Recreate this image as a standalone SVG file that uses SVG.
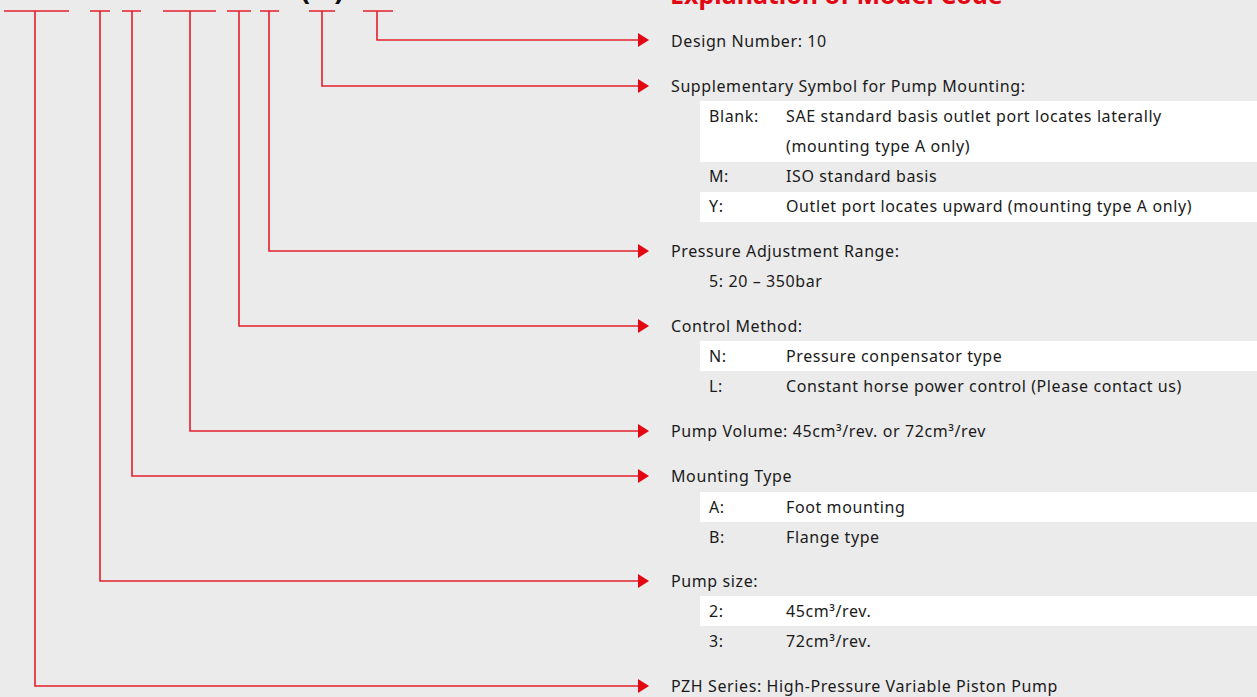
<svg xmlns="http://www.w3.org/2000/svg" width="1257" height="697" viewBox="0 0 1257 697">
<defs>
<style>
.bg{fill:#ebebeb}
.row{fill:#ffffff}
.bar{stroke:#e3202d;stroke-width:1.6;fill:none}
.con{stroke:#e3202d;stroke-width:1.6;fill:none}
.t{font-family:"Noto Sans","Open Sans",sans-serif;font-size:16px;letter-spacing:0.6px;fill:#1a1a1a}
.title{font-family:"Noto Sans","Open Sans",sans-serif;font-size:25px;font-weight:bold;fill:#e30613}
.par{font-family:"Liberation Sans",sans-serif;font-size:28px;font-weight:bold;fill:#111}
</style>
<marker id="ah" markerWidth="12" markerHeight="14" refX="1" refY="7" orient="auto" markerUnits="userSpaceOnUse">
<path d="M1,0 L12,7 L1,14 Z" fill="#e30613"/>
</marker>
</defs>
<rect class="bg" x="0" y="0" width="1257" height="697"/>
<text class="title" x="670" y="4">Explanation of Model Code</text>
<g id="code">
<text class="par" x="300" y="-2">(</text>
<text class="par" x="335" y="-2">)</text>
<path class="bar" d="M4,11H69 M90,11H110 M122,11H141 M163,11H216 M227,11H251 M260,11H279 M309,11H335 M363,11H393"/>
</g>
<g id="connectors">
<path class="con" marker-end="url(#ah)" d="M377,11V40H638"/>
<path class="con" marker-end="url(#ah)" d="M322,11V86H638"/>
<path class="con" marker-end="url(#ah)" d="M269,11V251H638"/>
<path class="con" marker-end="url(#ah)" d="M239,11V326H638"/>
<path class="con" marker-end="url(#ah)" d="M190,11V431H638"/>
<path class="con" marker-end="url(#ah)" d="M132,11V476H638"/>
<path class="con" marker-end="url(#ah)" d="M100,11V581H638"/>
<path class="con" marker-end="url(#ah)" d="M35,11V686H638"/>
</g>
<g id="design-number">
<text class="t" x="671" y="47">Design Number: 10</text>
</g>
<g id="supplementary">
<text class="t" x="671" y="92">Supplementary Symbol for Pump Mounting:</text>
<rect class="row" x="700" y="101" width="557" height="61"/>
<rect class="row" x="700" y="192" width="557" height="30"/>
<text class="t" x="709" y="122">Blank:</text>
<text class="t" x="786" y="122">SAE standard basis outlet port locates laterally</text>
<text class="t" x="786" y="152">(mounting type A only)</text>
<text class="t" x="709" y="182">M:</text>
<text class="t" x="786" y="182">ISO standard basis</text>
<text class="t" x="709" y="212">Y:</text>
<text class="t" x="786" y="212">Outlet port locates upward (mounting type A only)</text>
</g>
<g id="pressure">
<text class="t" x="671" y="257">Pressure Adjustment Range:</text>
<text class="t" x="709" y="287">5: 20 – 350bar</text>
</g>
<g id="control">
<text class="t" x="671" y="332">Control Method:</text>
<rect class="row" x="700" y="341" width="557" height="30"/>
<text class="t" x="709" y="362">N:</text>
<text class="t" x="786" y="362">Pressure conpensator type</text>
<text class="t" x="709" y="392">L:</text>
<text class="t" x="786" y="392">Constant horse power control (Please contact us)</text>
</g>
<g id="volume">
<text class="t" x="671" y="437">Pump Volume: 45cm³/rev. or 72cm³/rev</text>
</g>
<g id="mounting">
<text class="t" x="671" y="482">Mounting Type</text>
<rect class="row" x="700" y="492" width="557" height="30"/>
<text class="t" x="709" y="513">A:</text>
<text class="t" x="786" y="513">Foot mounting</text>
<text class="t" x="709" y="543">B:</text>
<text class="t" x="786" y="543">Flange type</text>
</g>
<g id="size">
<text class="t" x="671" y="587">Pump size:</text>
<rect class="row" x="700" y="596" width="557" height="30"/>
<text class="t" x="709" y="617">2:</text>
<text class="t" x="786" y="617">45cm³/rev.</text>
<text class="t" x="709" y="647">3:</text>
<text class="t" x="786" y="647">72cm³/rev.</text>
</g>
<g id="series">
<text class="t" x="671" y="692">PZH Series: High-Pressure Variable Piston Pump</text>
</g>
</svg>
